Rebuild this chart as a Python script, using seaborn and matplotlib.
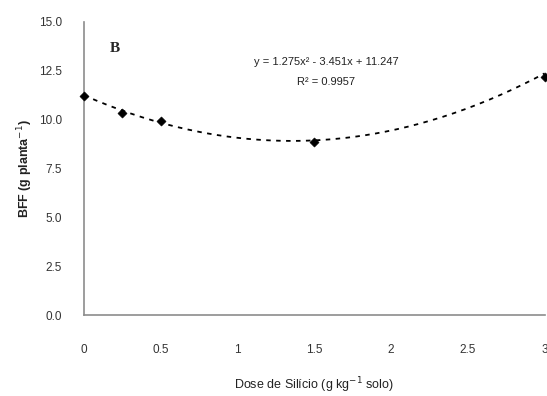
import numpy as np
import matplotlib
matplotlib.use("Agg")
import matplotlib.pyplot as plt
import seaborn as sns

# data
dose = [0, 0.25, 0.5, 1.5, 3]
bff = [11.2, 10.35, 9.95, 8.84, 12.2]
coef = [1.275, -3.451, 11.247]  # quadratic trend
y_ticks = [0, 2.5, 5, 7.5, 10, 12.5, 15]
x_ticks = [0, 0.5, 1, 1.5, 2, 2.5, 3]

sns.set_theme(style="white")
plt.rcParams["font.family"] = ["Liberation Sans", "DejaVu Sans"]

fig = plt.figure(figsize=(5.47, 3.96), dpi=100)
ax = fig.add_axes([0.1536, 0.2045, 0.842, 0.74])

xs = np.linspace(0, 3, 200)
ys = np.polyval(coef, xs)
ax.plot(xs, ys, color="black", lw=1.3, linestyle=(0, (2.5, 3)))
sns.scatterplot(x=dose, y=bff, ax=ax, color="black", marker="D", s=22,
                edgecolor="black", zorder=3, clip_on=False)

ax.set_xlim(0, 3)
ax.set_ylim(0, 15)
ax.set_xticks(x_ticks)
ax.set_xticklabels([f"{v:g}" for v in x_ticks])
ax.set_yticks(y_ticks)
ax.set_yticklabels([f"{v:.1f}" for v in y_ticks])

for s in ["top", "right"]:
    ax.spines[s].set_visible(False)
for s in ["left", "bottom"]:
    ax.spines[s].set_color("#8c8c8c")
    ax.spines[s].set_linewidth(1.2)

ax.tick_params(axis="both", which="both", direction="out", length=4,
               color="#8c8c8c", labelsize=8.5, labelcolor="#333333")
ax.tick_params(axis="x", pad=17)
ax.tick_params(axis="y", pad=12)

ax.set_xlabel("Dose de Silício (g kg$^{-1}$ solo)", fontsize=9, labelpad=14,
              color="#222222")
ax.set_ylabel("BFF (g planta$^{-1}$)", fontsize=9, fontweight="bold",
              labelpad=3, color="#222222")

ax.text(1.575, 12.95, "y = 1.275x² - 3.451x + 11.247", ha="center",
        va="center", fontsize=8, color="#222222")
ax.text(1.575, 11.95, "R² = 0.9957", ha="center", va="center", fontsize=8,
        color="#222222")

fig.text(0.21, 0.878, "B", fontsize=11, fontweight="bold",
         family="Liberation Serif", ha="center", va="center")

fig.savefig("out.png", dpi=100)
